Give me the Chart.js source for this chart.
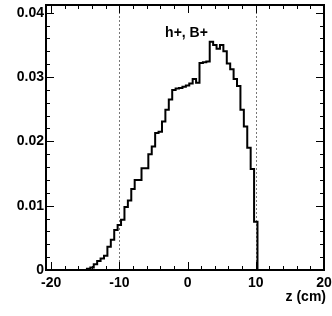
<!DOCTYPE html>
<html>
<head>
<meta charset="utf-8">
<script src="https://cdn.jsdelivr.net/npm/chart.js@4/dist/chart.umd.min.js"></script>
<style>
html,body{margin:0;padding:0;background:#fff;}
#wrap{width:332px;height:316px;}
</style>
</head>
<body>
<div id="wrap"><canvas id="c" width="332" height="316"></canvas></div>
<script>
// ---- data ----
const binCenters = [
  -20.5,-20,-19.5,-19,-18.5,-18,-17.5,-17,-16.5,-16,-15.5,-15,
  -14.5,-14,-13.5,-13,-12.5,-12,-11.5,-11,-10.5,-10,
  -9.5,-9,-8.5,-8,-7.5,-7,-6.5,-6,-5.5,-5,-4.5,-4,-3.5,-3,-2.5,-2,-1.5,-1,-0.5,
  0,0.5,1,1.5,2,2.5,3,3.5,4,4.5,5,5.5,6,6.5,7,7.5,8,8.5,9,9.5,10,
  10.5,11,11.5,12,12.5,13,13.5,14,14.5,15,15.5,16,16.5,17,17.5,18,18.5,19,19.5,20
];
const binValues = [
  0,0,0,0,0,0,0,0,0,0,0,0,
  0.0002,0.0004,0.0009,0.0014,0.0018,0.0022,0.0036,0.0047,0.0062,0.0070,
  0.0078,0.0098,0.0108,0.0126,0.0140,0.0140,0.0158,0.0158,0.0180,0.0192,0.0213,0.0215,0.0231,0.0249,0.0265,0.0280,0.0282,0.0283,0.0285,
  0.0287,0.0290,0.0297,0.0291,0.0322,0.0323,0.0324,0.0355,0.0350,0.0344,0.0350,0.0340,0.0321,0.0312,0.0297,0.0286,0.0249,0.0223,0.0190,0.0157,0.0075,
  0,0,0,0,0,0,0,0,0,0,0,0,0,0,0,0,0,0,0,0
];
const binWidth = 0.5;
const xTickValues = [-20, -10, 0, 10, 20];
const yTickValues = [0, 0.01, 0.02, 0.03, 0.04];
const yTickLabels = ['0', '0.01', '0.02', '0.03', '0.04'];
const cutLines = [-10, 10];
const histLabel = 'h+, B+';
const xAxisTitle = 'z (cm)';

// ---- build step points from bins ----
const points = binCenters.map((c, i) => ({x: c - binWidth / 2, y: binValues[i]}));
points.push({x: binCenters[binCenters.length - 1] + binWidth / 2, y: binValues[binValues.length - 1]});

const FONT = '"Liberation Sans", Arial, Helvetica, sans-serif';

const rootStyle = {
  id: 'rootStyle',
  beforeDatasetsDraw(chart) {
    const {ctx, chartArea: a, scales: {x, y}} = chart;
    ctx.save();
    ctx.strokeStyle = '#777';
    ctx.lineWidth = 1;
    ctx.setLineDash([2, 2]);
    cutLines.forEach(v => {
      const px = Math.round(x.getPixelForValue(v)) + 0.5;
      ctx.beginPath();
      ctx.moveTo(px, a.bottom);
      ctx.lineTo(px, a.top);
      ctx.stroke();
    });
    ctx.restore();
  },
  afterDatasetsDraw(chart) {
    const {ctx, chartArea: a, scales: {x, y}} = chart;
    ctx.save();
    ctx.strokeStyle = '#000';
    ctx.lineWidth = 1;
    for (let v = -20; v <= 20; v += 2) {
      const px = Math.round(x.getPixelForValue(v)) + 0.5;
      const len = (v % 10 === 0) ? 8 : 4;
      ctx.beginPath();
      ctx.moveTo(px, a.bottom); ctx.lineTo(px, a.bottom - len);
      ctx.moveTo(px, a.top); ctx.lineTo(px, a.top + len);
      ctx.stroke();
    }
    for (let k = 0; k <= 20; k++) {
      const v = k * 0.002;
      const py = Math.round(y.getPixelForValue(v)) + 0.5;
      const len = (k % 5 === 0) ? 8 : 4;
      ctx.beginPath();
      ctx.moveTo(a.left, py); ctx.lineTo(a.left + len, py);
      ctx.moveTo(a.right, py); ctx.lineTo(a.right - len, py);
      ctx.stroke();
    }
    ctx.lineWidth = 2;
    ctx.strokeRect(a.left, a.top, a.right - a.left, a.bottom - a.top);
    ctx.fillStyle = '#000';
    ctx.font = 'bold 14px ' + FONT;
    ctx.textAlign = 'center';
    ctx.textBaseline = 'alphabetic';
    ctx.fillText(histLabel, (a.left + a.right) / 2 + 1.5, a.top + 32);
    ctx.textAlign = 'right';
    ctx.fillText(xAxisTitle, a.right + 2, a.bottom + 31);
    ctx.restore();
  }
};

new Chart(document.getElementById('c'), {
  type: 'line',
  data: {
    datasets: [{
      data: points,
      stepped: 'before',
      borderColor: '#000',
      borderWidth: 2,
      pointRadius: 0,
      fill: false,
      tension: 0
    }]
  },
  options: {
    responsive: false,
    animation: false,
    events: [],
    layout: {padding: {left: 0, right: 8, top: 5, bottom: 0}},
    plugins: {legend: {display: false}, tooltip: {enabled: false}, title: {display: false}},
    scales: {
      x: {
        type: 'linear',
        min: -20.75,
        max: 20,
        grid: {display: false, drawTicks: false},
        border: {display: false},
        afterBuildTicks: s => { s.ticks = xTickValues.map(v => ({value: v})); },
        afterFit: s => { s.height = 46; s.paddingLeft = 0; s.paddingRight = 0; },
        ticks: {
          padding: 5,
          maxRotation: 0,
          autoSkip: false,
          color: '#000',
          font: {family: FONT, size: 14, weight: 'bold'},
          callback: v => String(v)
        }
      },
      y: {
        type: 'linear',
        min: 0,
        max: 0.0412,
        grid: {display: false, drawTicks: false},
        border: {display: false},
        afterBuildTicks: s => { s.ticks = yTickValues.map(v => ({value: v})); },
        afterFit: s => { s.width = 46; s.paddingTop = 0; s.paddingBottom = 0; },
        ticks: {
          padding: 2,
          autoSkip: false,
          color: '#000',
          font: {family: FONT, size: 14, weight: 'bold'},
          callback: v => yTickLabels[yTickValues.indexOf(v)]
        }
      }
    }
  },
  plugins: [rootStyle]
});
</script>
</body>
</html>
